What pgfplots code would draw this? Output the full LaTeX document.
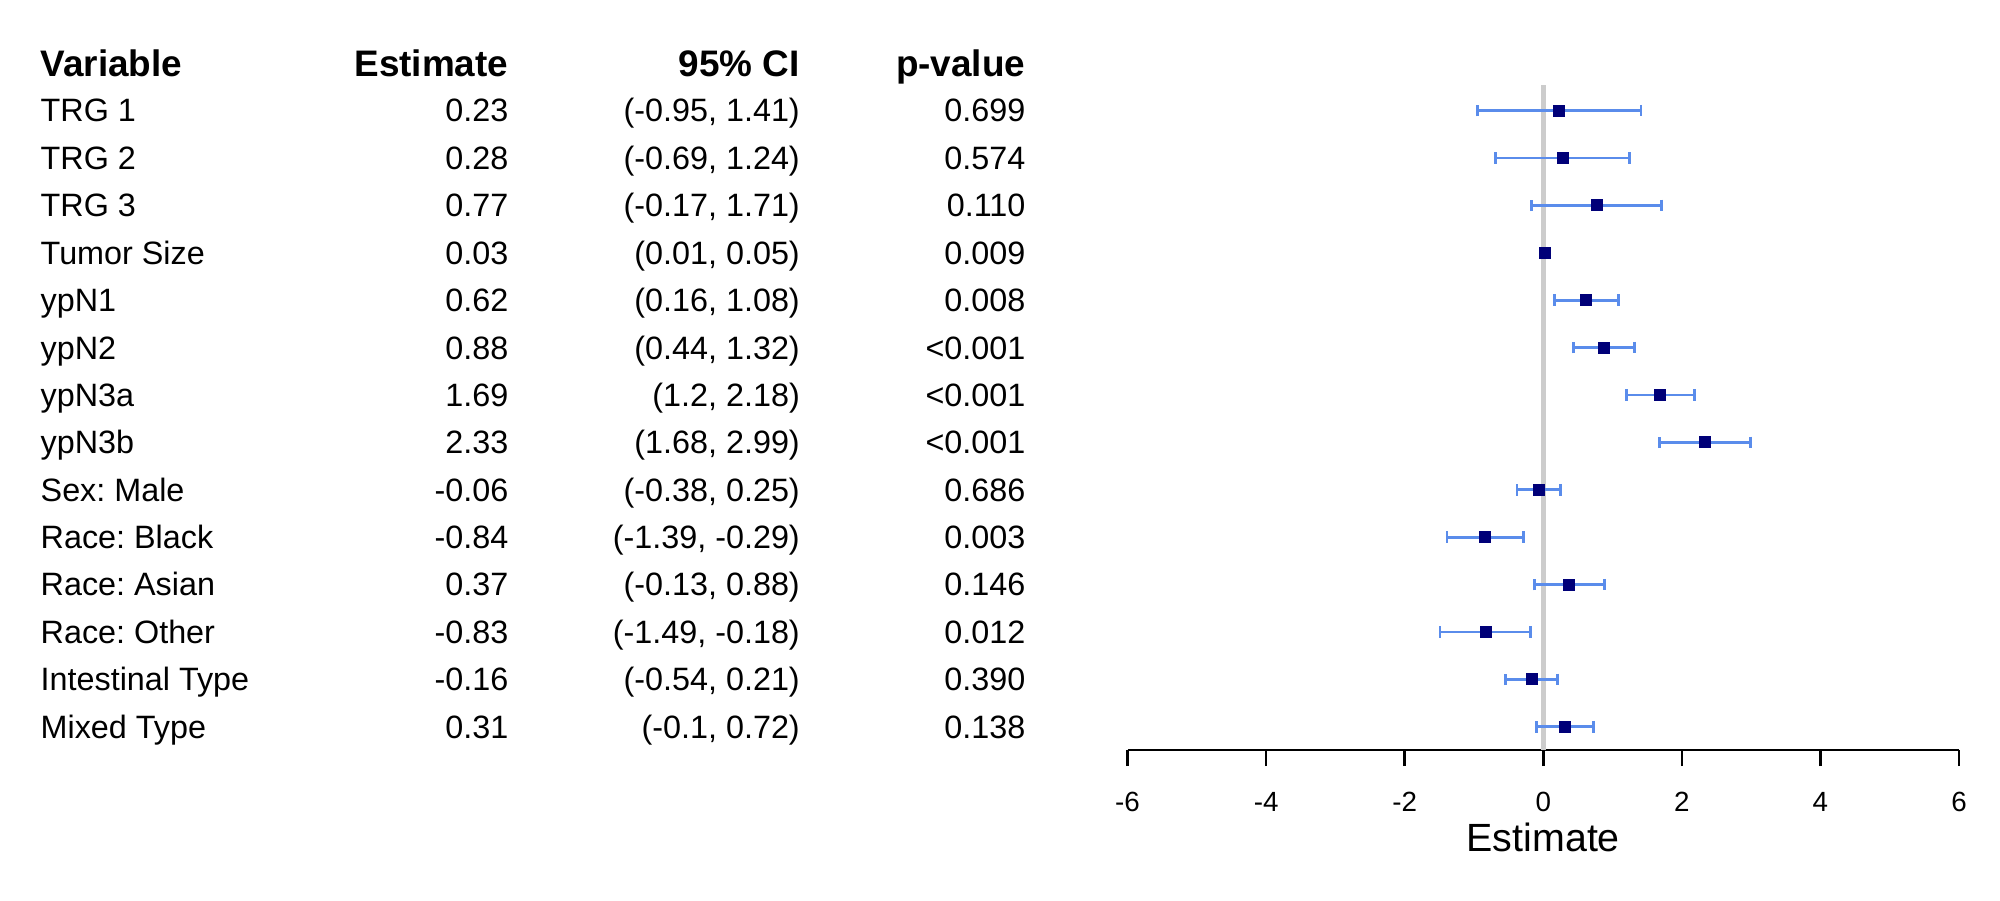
\documentclass[border=0pt]{standalone}
\usepackage{fontspec}
\setmainfont{Liberation Sans}
\usepackage{pgfplots}
\usepackage{pgfplotstable}
\pgfplotsset{compat=1.18}
\frenchspacing
\definecolor{cibar}{RGB}{90,140,235}
\definecolor{navypt}{RGB}{0,0,120}
\definecolor{refline}{RGB}{204,204,204}
\pgfplotstableread{
y est lo hi
14 0.23 -0.95 1.41
13 0.28 -0.69 1.24
12 0.77 -0.17 1.71
11 0.03 0.01 0.05
10 0.62 0.16 1.08
9 0.88 0.44 1.32
8 1.69 1.2 2.18
7 2.33 1.68 2.99
6 -0.06 -0.38 0.25
5 -0.84 -1.39 -0.29
4 0.37 -0.13 0.88
3 -0.83 -1.49 -0.18
2 -0.16 -0.54 0.21
1 0.31 -0.1 0.72
}\forestdata
\begin{document}
\begin{tikzpicture}
\path[use as bounding box] (0,0) rectangle (20,9);
\begin{axis}[
  at={(11.275cm,1.5cm)}, anchor=south west,
  scale only axis, width=8.315cm, height=6.65cm,
  xmin=-6, xmax=6, ymin=0.51, ymax=14.54,
  axis x line*=bottom, axis y line=none,
  xtick={-6,-4,...,6}, ytick=\empty,
  tick align=outside, major tick length=0.16cm,
  x axis line style={line width=0.7pt, black},
  every tick/.style={line width=0.7pt, black},
  /pgf/number format/assume math mode=true,
  xticklabel style={font=\fontsize{7.9}{9}\selectfont, anchor=base, yshift=-0.45cm},
  every axis x label/.style={at={(axis description cs:0.5,0)}, anchor=base, yshift=-1.017cm, font=\fontsize{11.2}{13}\selectfont},
  xlabel={Estimate},
  clip=false,
]
\addplot[refline, line width=1.3pt] coordinates {(0,0.51) (0,14.54)};
\addplot[only marks, mark=square*, mark size=0.055cm,
  mark options={draw=navypt, fill=navypt, line width=0.3pt},
  error bars/.cd, x dir=both, x explicit,
  error bar style={cibar, line width=0.8pt},
  error mark options={rotate=90, mark size=0.058cm, line width=0.8pt, cibar}]
  table[x=est, y=y, x error plus expr=\thisrow{hi}-\thisrow{est}, x error minus expr=\thisrow{est}-\thisrow{lo}] {\forestdata};
\end{axis}
\begin{scope}[font=\fontsize{9.2}{11}\selectfont]
\pgfmathsetmacro\yh{9-1.105+0.474-0.13}
\node[anchor=base west, inner sep=0, font=\fontsize{10.5}{12}\selectfont\bfseries] at (0.40,\yh) {Variable};
\node[anchor=base east, inner sep=0, font=\fontsize{10.5}{12}\selectfont\bfseries] at (5.09,\yh) {Estimate};
\node[anchor=base east, inner sep=0, font=\fontsize{10.5}{12}\selectfont\bfseries] at (8.005,\yh) {95\% CI};
\node[anchor=base east, inner sep=0, font=\fontsize{10.5}{12}\selectfont\bfseries] at (10.26,\yh) {p-value};
\foreach \i/\name/\est/\lo/\hi/\p in {
1/TRG 1/0.23/-0.95/1.41/0.699,
2/TRG 2/0.28/-0.69/1.24/0.574,
3/TRG 3/0.77/-0.17/1.71/0.110,
4/Tumor Size/0.03/0.01/0.05/0.009,
5/ypN1/0.62/0.16/1.08/0.008,
6/ypN2/0.88/0.44/1.32/<0.001,
7/ypN3a/1.69/1.2/2.18/<0.001,
8/ypN3b/2.33/1.68/2.99/<0.001,
9/Sex: Male/-0.06/-0.38/0.25/0.686,
10/Race: Black/-0.84/-1.39/-0.29/0.003,
11/Race: Asian/0.37/-0.13/0.88/0.146,
12/Race: Other/-0.83/-1.49/-0.18/0.012,
13/Intestinal Type/-0.16/-0.54/0.21/0.390,
14/Mixed Type/0.31/-0.1/0.72/0.138}{
  \pgfmathsetmacro\yb{9-1.105-0.474*(\i-1)-0.115}
  \node[anchor=base west, inner sep=0] at (0.40,\yb) {\name};
  \node[anchor=base east, inner sep=0] at (5.09,\yb) {\est};
  \node[anchor=base east, inner sep=0] at (8.005,\yb) {(\lo, \hi)};
  \node[anchor=base east, inner sep=0] at (10.26,\yb) {\p};
}
\end{scope}
\end{tikzpicture}
\end{document}
